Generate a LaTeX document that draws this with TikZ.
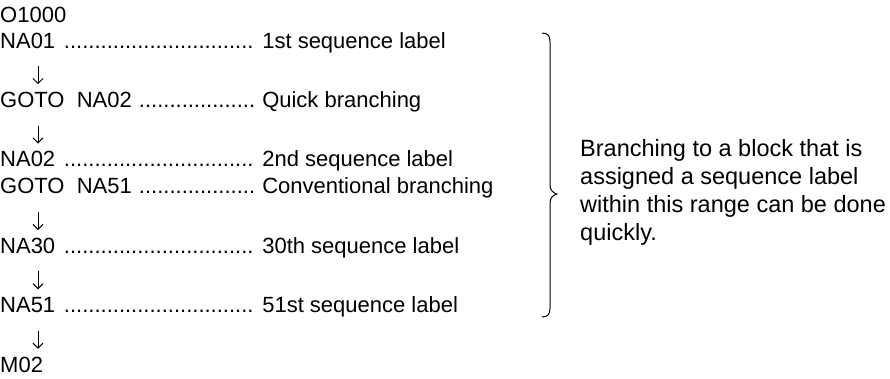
\documentclass[tikz,border=0pt]{standalone}
\usepackage{fontspec}
\setmainfont{Liberation Sans}
\usetikzlibrary{arrows.meta,calc,positioning}
\newcommand{\leaderline}[2]{\hbox to 262pt{#1\ \cleaders\hbox{.}\hfill\ }#2}

\begin{document}
\begin{tikzpicture}[x=1pt,y=-1pt,
  every node/.style={inner sep=0pt, font=\fontsize{22}{27}\selectfont},
  codeline/.style={anchor=base west, text height=16pt, text depth=5pt},
  flow/.style={-{Straight Barb[length=5pt,width=10pt]}, line width=1pt,
    shorten <=13pt, shorten >=7pt},
  brace/.style={line width=1pt, line join=round}]
  % Program listing with sequence labels, brace and note on the right
  \useasboundingbox (0,0) rectangle (890,378);
  \coordinate (arrx) at (38,0);
  \node[codeline] (o1000) at (0,22) {O1000};
  \foreach \nm/\y/\cd/\lb in {na01/48/NA01/1st sequence label,
      goto02/107.4/GOTO\ \ NA02/Quick branching,
      na02/166.8/NA02/2nd sequence label,
      goto51/193.8/GOTO\ \ NA51/Conventional branching,
      na30/253.2/NA30/30th sequence label,
      na51/312.6/NA51/51st sequence label}{
    \node[codeline] (\nm) at (0,\y) {\leaderline{\cd}{\lb}};
  }
  \node[codeline] (m02) at (0,372) {M02};
  \foreach \a/\b in {na01/goto02,goto02/na02,goto51/na30,na30/na51,na51/m02}{
    \draw[flow] (\a.south -| arrx) -- (\b.north -| arrx);
  }
  \draw[brace] (542,33) .. controls (548,33) and (550,36) .. (550,42) -- (550,185)
     .. controls (550,190) and (553,193) .. (557,194)
     .. controls (553,195) and (550,198) .. (550,203) -- (550,308)
     .. controls (550,314) and (548,317) .. (542,317);
  \node[anchor=west, align=left, font=\fontsize{23.5}{28}\selectfont] (note) at (580,192)
     {Branching to a block that is\\assigned a sequence label\\within this range can be done\\quickly.};
\end{tikzpicture}
\end{document}
